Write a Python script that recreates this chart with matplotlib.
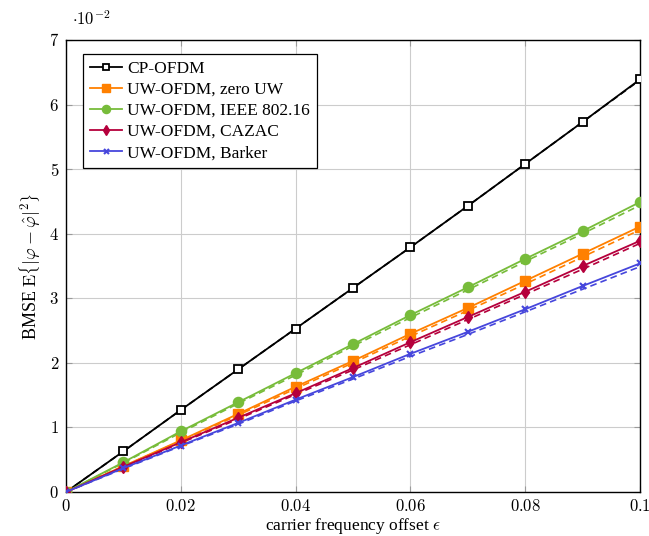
#!/usr/bin/env python3
"""BMSE of the CFO estimate vs. carrier frequency offset for CP-OFDM and UW-OFDM variants."""

import matplotlib

matplotlib.use("Agg")
import matplotlib.pyplot as plt
from matplotlib.ticker import FuncFormatter, MultipleLocator

plt.rcParams["font.family"] = ["Liberation Serif", "DejaVu Serif"]
plt.rcParams["mathtext.fontset"] = "cm"

cfo = [0.0, 0.01, 0.02, 0.03, 0.04, 0.05, 0.06, 0.07, 0.08, 0.09, 0.1]

# simulated BMSE (x 1e-2)
cp_ofdm = [0.0, 0.63, 1.27, 1.90, 2.53, 3.16, 3.79, 4.43, 5.08, 5.73, 6.39]
uw_zero = [0.0, 0.40, 0.80, 1.21, 1.63, 2.03, 2.45, 2.85, 3.27, 3.69, 4.11]
uw_ieee = [0.0, 0.46, 0.94, 1.39, 1.84, 2.29, 2.74, 3.17, 3.61, 4.04, 4.49]
uw_cazac = [0.0, 0.39, 0.77, 1.15, 1.53, 1.92, 2.32, 2.71, 3.10, 3.50, 3.89]
uw_barker = [0.0, 0.37, 0.72, 1.07, 1.43, 1.78, 2.14, 2.48, 2.83, 3.19, 3.54]

# analytical BMSE (x 1e-2)
cp_ofdm_th = [0.0, 0.63, 1.27, 1.90, 2.53, 3.16, 3.79, 4.43, 5.08, 5.73, 6.38]
uw_zero_th = [0.0, 0.40, 0.79, 1.19, 1.60, 2.00, 2.41, 2.81, 3.22, 3.64, 4.06]
uw_ieee_th = [0.0, 0.45, 0.92, 1.37, 1.81, 2.26, 2.70, 3.13, 3.57, 4.00, 4.44]
uw_cazac_th = [0.0, 0.38, 0.76, 1.13, 1.51, 1.89, 2.28, 2.67, 3.06, 3.45, 3.85]
uw_barker_th = [0.0, 0.36, 0.71, 1.05, 1.41, 1.75, 2.10, 2.44, 2.79, 3.14, 3.49]

fig = plt.figure(figsize=(6.49, 5.36), dpi=100)
ax = fig.add_axes([0.1017, 0.0821, 0.8844, 0.8433])

series = [
    ("CP-OFDM", cp_ofdm, cp_ofdm_th, "black",
     dict(marker="s", markersize=6, markerfacecolor="white", markeredgewidth=1.3)),
    ("UW-OFDM, zero UW", uw_zero, uw_zero_th, "#ff8000",
     dict(marker="s", markersize=7)),
    ("UW-OFDM, IEEE 802.16", uw_ieee, uw_ieee_th, "#77bc3a",
     dict(marker="o", markersize=7.3)),
    ("UW-OFDM, CAZAC", uw_cazac, uw_cazac_th, "#b5003c",
     dict(marker="d", markersize=6.5)),
    ("UW-OFDM, Barker", uw_barker, uw_barker_th, "#4646dc",
     dict(marker="x", markersize=4.5, markeredgewidth=1.5)),
]

for label, sim, th, color, mk in series:
    ax.plot(cfo, th, color=color, linestyle=(0, (4, 2.5)), linewidth=1.2, zorder=2)
for label, sim, th, color, mk in series:
    ax.plot(cfo, sim, color=color, linewidth=1.3, label=label, zorder=3, **mk)

ax.set_xlim(0, 0.1)
ax.set_ylim(0, 7)
ax.xaxis.set_major_locator(MultipleLocator(0.02))
ax.yaxis.set_major_locator(MultipleLocator(1))
ax.xaxis.set_major_formatter(FuncFormatter(lambda v, _: "$0$" if v == 0 else f"${v:g}$"))
ax.yaxis.set_major_formatter(FuncFormatter(lambda v, _: f"${v:g}$"))
ax.tick_params(direction="in", length=4, color="#9a9a9a", labelsize=12,
               top=True, right=True, pad=5)
ax.grid(True, color="#cccccc", linewidth=0.8)
ax.set_axisbelow(True)
for sp in ax.spines.values():
    sp.set_linewidth(1.0)

ax.set_xlabel(r"carrier frequency offset $\epsilon$", fontsize=12.5, labelpad=1)
ax.set_ylabel(r"BMSE $\mathrm{E}\left\{|\varphi-\hat{\varphi}|^2\right\}$",
              fontsize=13, labelpad=5)
ax.text(0.01, 1.025, r"$\cdot 10^{-2}$", transform=ax.transAxes, fontsize=12,
        ha="left", va="bottom")

leg = ax.legend(loc="upper left", bbox_to_anchor=(0.0296, 0.969), fontsize=12.5,
                fancybox=False, framealpha=1, edgecolor="black",
                handlelength=1.85, handletextpad=0.3, borderpad=0.4,
                labelspacing=0.28, borderaxespad=0, markerscale=0.8)
leg.get_frame().set_linewidth(0.9)

fig.savefig("out.png", dpi=100)
